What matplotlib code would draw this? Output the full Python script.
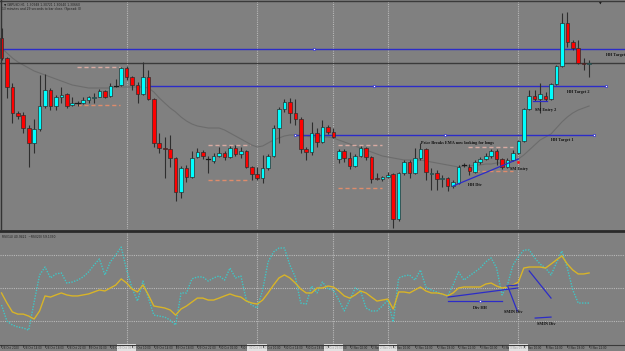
import matplotlib
matplotlib.use("Agg")
import matplotlib.pyplot as plt
from matplotlib.lines import Line2D
from matplotlib.transforms import blended_transform_factory

# ---------------- data (price levels in points above a base, H1 bars) ----------------
opens = [192,172,143,117,115,102,87,101,124,140,
         124,133,136,125,127,127,130,132,133,139,
         134,144,145,162,153,145,136,153,131,87,
         82,81,72,38,62,53,73,78,71,69,
         74,77,73,82,76,79,63,56,52,62,
         74,102,121,128,117,111,81,78,97,88,
         103,98,71,79,72,64,74,82,73,52,
         51,53,56,11,57,68,57,72,81,56,
         57,51,52,44,47,65,63,58,68,71,
         74,79,71,63,70,77,89,121,134,131,
         134,131,146,164,207,188,182,167,166]
closes = [172,143,117,114,102,87,101,124,140,124,
          133,135,124,127,127,130,133,133,139,133,
          144,144,162,153,145,136,153,131,87,82,
          81,72,38,62,53,72,78,74,71,74,
          77,73,82,76,79,63,56,52,62,74,
          102,121,128,117,111,81,78,97,88,103,
          98,93,79,72,64,74,82,73,51,51,
          53,55,11,57,68,57,72,81,58,57,
          51,52,44,48,63,65,59,68,71,74,
          79,71,63,70,77,89,121,134,131,136,
          131,146,164,207,188,182,167,166,167]
highs = [202,173,147,119,118,105,111,155,156,142,
         135,143,137,133,129,133,134,137,141,140,
         147,151,163,164,154,148,168,160,132,97,
         93,95,73,64,65,79,82,80,74,77,
         83,79,84,85,83,80,64,63,75,76,
         105,123,131,132,131,113,83,108,102,110,
         105,102,81,81,78,76,84,83,74,57,
         54,58,57,58,70,70,82,87,82,62,
         60,55,53,50,65,67,66,70,73,77,
         81,81,72,72,80,90,122,140,140,147,
         138,147,165,217,218,190,190,172,170]
lows = [170,132,107,111,97,63,77,99,122,120,
        120,127,122,124,124,126,127,127,133,132,
        133,143,144,150,140,127,135,130,83,77,
        52,63,29,32,48,52,72,71,57,67,
        73,70,72,74,72,62,50,50,47,60,
        73,87,118,107,105,77,70,75,83,87,
        96,92,67,68,61,63,73,70,47,50,
        49,52,2,9,55,52,56,70,50,40,
        40,43,39,42,46,63,55,57,66,70,
        72,65,61,62,69,76,88,120,129,117,
        129,130,145,163,183,180,166,160,153]
ema = [182,177,172,168,165,162,159,157,155,153,
       151,149,147,145,144,143,142,142,142,142,
       142,143,143,143,143,143,143,142,138,132,
       127,122,118,113,109,106,104,103,102,102,
       102,100,97,94,91,88,85,83,84,87,
       90,92,94,95,95,94,94,93,93,93,
       93,92,90,88,86,84,82,80,78,76,
       74,73,72,71,70,70,70,70,69,68,
       67,66,65,64,63,64,64,65,65,66,
       66,67,67,68,69,71,75,80,85,90,
       93,96,102,108,113,117,120,122,124]
rsi_slow = [47.0,40.9,35.5,34.2,34.2,33.0,31.2,36.1,45.2,44.5,
            45.8,47.0,45.8,45.2,45.2,45.8,46.4,47.6,48.8,48.2,
            50.0,51.8,55.5,53.0,49.4,47.6,51.8,45.8,39.1,38.5,
            37.9,36.7,33.6,37.3,39.1,41.5,43.9,43.9,42.7,42.7,
            43.9,45.2,46.4,45.2,44.5,42.1,40.9,40.3,42.7,47.0,
            51.8,56.1,57.9,56.1,53.0,49.4,47.0,47.0,50.0,50.0,
            51.2,50.6,48.2,45.2,43.9,45.8,48.2,47.0,44.5,42.1,
            42.7,43.3,37.3,47.6,47.6,47.0,48.8,50.6,48.2,47.0,
            47.0,46.4,45.2,47.0,50.0,50.6,50.6,50.6,50.6,52.4,
            53.0,51.2,50.0,50.6,51.8,53.6,62.1,62.7,62.7,62.7,
            62.1,64.5,67.0,69.4,64.5,60.9,58.5,58.5,59.1]
rsi_fast = [39.7,30.0,27.6,26.4,25.8,24.5,41.5,57.9,62.7,56.1,
            58.5,59.1,53.0,53.6,54.8,56.7,59.7,63.9,67.6,57.9,
            65.8,70.0,74.8,60.9,50.0,42.1,54.2,43.9,33.6,33.0,
            32.4,30.6,27.6,47.0,47.0,55.5,56.7,56.7,54.2,56.1,
            57.3,54.8,62.1,56.1,57.3,42.7,39.7,37.9,48.8,65.8,
            71.8,74.2,74.2,63.9,56.7,40.9,40.3,51.2,47.0,53.6,
            49.4,48.8,42.7,36.1,42.7,50.0,48.2,37.9,36.1,36.1,
            39.1,42.7,29.4,56.1,57.3,57.9,54.8,60.9,50.6,48.8,
            47.6,46.4,45.2,51.8,59.7,54.8,57.3,59.7,62.1,65.8,
            68.2,62.1,45.8,51.8,63.9,68.8,73.0,73.0,68.2,64.5,
            62.1,57.9,65.2,72.4,62.1,48.8,40.9,40.9,40.9]
time_labels = ["28 Oct 2020","28 Oct 14:00","28 Oct 18:00","28 Oct 22:00","29 Oct 02:00",
               "29 Oct 06:00","29 Oct 10:00","29 Oct 14:00","29 Oct 18:00","29 Oct 22:00",
               "30 Oct 02:00","30 Oct 06:00","30 Oct 10:00","30 Oct 14:00","30 Oct 18:00",
               "30 Oct 22:00","2 Nov 02:00","2 Nov 06:00","2 Nov 10:00","2 Nov 14:00",
               "2 Nov 18:00","2 Nov 22:00","3 Nov 02:00","3 Nov 06:00","3 Nov 10:00",
               "3 Nov 14:00","3 Nov 18:00","3 Nov 22:00"]
label_step = 4
separator_idx = [23, 47, 61, 71, 95]
separator_labels = ["29 Oct 09:00", "30 Oct 09:00", "30 Oct 23:00", "2 Nov 09:00", "3 Nov 09:00"]
rsi_levels = [30, 50, 70]
bid_level = 167
target_levels = {"HH Target": 181, "HH Target 2": 144, "HH Target 1": 95}

# ---------------- figure ----------------
W, H = 625, 351
BG = '#808080'
BLUE = '#2c2cc8'
fig = plt.figure(figsize=(W / 100, H / 100), dpi=100, facecolor=BG)
ax = fig.add_axes([0, 1 - 229 / H, 1, 228 / H])
ax2 = fig.add_axes([0, 1 - 344 / H, 1, 112 / H])
for a in (ax, ax2):
    a.set_facecolor(BG)
    a.set_xlim(-0.276, 114.6)
    for s in a.spines.values():
        s.set_visible(False)
    a.set_xticks([])
    a.set_yticks([])
ax.set_ylim(1, 229)
ax2.set_ylim(16.1, 83.9)

n = len(opens)
idx = list(range(n))

# separators / grid
for a in (ax, ax2):
    for s in separator_idx:
        a.axvline(s, color='#b8b8b8', lw=0.8, ls=(0, (1, 1)), zorder=1)
for lv in rsi_levels:
    ax2.axhline(lv, color='#b8b8b8', lw=0.8, ls=(0, (1, 1)), zorder=1)

# EMA
ax.plot(idx, ema, color='#6c6c6c', lw=0.8, zorder=2)

# horizontal target lines
ax.axhline(target_levels["HH Target"], color=BLUE, lw=1, zorder=2)
ax.axhline(bid_level, color='#3a3a3a', lw=1, zorder=2)
ax.plot([27.3, 111.1], [target_levels["HH Target 2"]] * 2, color=BLUE, lw=1, zorder=2)
ax.plot([54.0, 108.9], [target_levels["HH Target 1"]] * 2, color=BLUE, lw=1, zorder=2)
ax.plot([57.4, 68.5, 111.1], [181, 144, 144], ls='none', marker='s', ms=1.6,
        mfc='white', mec=BLUE, mew=0.5, zorder=6)
ax.plot([54.0, 81.5, 108.9], [95, 95, 95], ls='none', marker='s', ms=1.6,
        mfc='white', mec=BLUE, mew=0.5, zorder=6)

# range boxes (dashed)
for (x0, x1, top, bot) in [(13.9, 21.8, 163, 125), (38.0, 45.7, 85, 50),
                           (61.9, 70.0, 85, 42), (85.8, 94.0, 83, 59)]:
    ax.plot([x0, x1], [top, top], color='#d8aaa2', lw=1, ls=(0, (3, 2)), zorder=2)
    ax.plot([x0, x1], [bot, bot], color='#de8c6c', lw=1, ls=(0, (3, 2)), zorder=2)

# candles
wick = '#2e2e2e'
ax.vlines(idx, lows, highs, color=wick, lw=0.8, zorder=3)
bottoms = [min(o, c) for o, c in zip(opens, closes)]
heights = [abs(c - o) for o, c in zip(opens, closes)]
colors = ['#00ffff' if c > o else '#ff0000' for o, c in zip(opens, closes)]
ax.bar(idx, heights, bottom=bottoms, width=0.66, color=colors,
       edgecolor=wick, linewidth=0.5, zorder=4)
for i, (o, c) in enumerate(zip(opens, closes)):
    if o == c:
        ax.plot([i - 0.4, i + 0.4], [o, o], color='#1a1a1a', lw=0.9, zorder=4)

# divergence annotation main panel
ax.plot([83.0, 95.0], [44, 71], color=BLUE, lw=0.9, zorder=5)
ax.plot([97.7, 100.3], [129, 129], color=BLUE, lw=0.9, zorder=5)
ax.plot([95], [68], marker='o', ms=1.2, color='#ff2020', zorder=6)
tf = dict(family='Liberation Serif', fontweight='bold', fontsize=3.1, color='#101010', zorder=7)
ax.text(77.1, 87, "Price Breaks EMA now looking for longs", ha='left', va='center', **tf)
ax.text(87.0, 45, "HH Div", ha='center', va='center', **tf)
ax.text(95.1, 61, "SM Entry", ha='center', va='center', **tf)
ax.text(98.1, 120, "SM Entry 2", ha='left', va='center', **tf)
ax.text(104.0, 138, "HH Target 2", ha='left', va='center', **tf)
ax.text(101.0, 90, "HH Target 1", ha='left', va='center', **tf)
ax.text(111.1, 175, "HH Target", ha='left', va='center', clip_on=False, **tf)

# header texts
ax.text(0.006, 0.995, "\u25bc GBPUSD,H1  1.30948 1.30721 1.30640 1.30660", transform=ax.transAxes,
        ha='left', va='top', fontsize=2.2, color='#1e1e1e')
ax.text(0.004, 0.975, "13 minutes and 29 seconds to bar close. (Spread: 0)", transform=ax.transAxes,
        ha='left', va='top', fontsize=2.2, color='#1e1e1e')
ax.text(0.96, 0.998, "\u25bc", transform=ax.transAxes, ha='center', va='top', fontsize=2.5, color='#111111')

# RSI panel
ax2.plot(idx, rsi_fast, color='#3fc6c6', lw=1.0, ls=(0, (1, 1)), zorder=3)
ax2.plot(idx, rsi_slow, color='#d8b428', lw=1.0, zorder=4)
ax2.text(0.004, 0.975, "RSI(14) 40.9421  ~RSI(20) 59.1330", transform=ax2.transAxes,
         ha='left', va='top', fontsize=2.2, color='#1e1e1e')
for (x0, v0, x1, v1) in [(82.1, 44.5, 94.9, 50.0), (82.1, 42.1, 92.0, 42.1),
                         (92.9, 51.2, 94.8, 51.8), (93.1, 50.6, 94.8, 36.1),
                         (97.0, 60.3, 101.0, 43.9), (98.1, 31.8, 101.0, 32.4)]:
    ax2.plot([x0, x1], [v0, v1], color=BLUE, lw=0.9, zorder=5)
ax2.plot([87.9], [42.1], ls='none', marker='s', ms=1.4, mfc='white', mec=BLUE, mew=0.4, zorder=6)
ax2.text(88.0, 37.9, "Div HH", ha='center', va='center', **tf)
ax2.text(94.0, 35.3, "SMIN Div", ha='center', va='center', **tf)
ax2.text(100.1, 28.2, "SMIN Div", ha='center', va='center', **tf)

# frame lines
fig.add_artist(Line2D([0, 1], [1 - 0.5 / H] * 2, transform=fig.transFigure, color='#3a3a3a', lw=1))
fig.add_artist(Line2D([0, 1], [1 - 230.5 / H] * 2, transform=fig.transFigure, color='#2a2a2a', lw=2))
fig.add_artist(Line2D([0, 1], [1 - 344.5 / H] * 2, transform=fig.transFigure, color='#3a3a3a', lw=0.8))
fig.add_artist(Line2D([0.5 / W] * 2, [1 - 229 / H, 1], transform=fig.transFigure, color='#333333', lw=1))

# time axis labels
tr = blended_transform_factory(ax2.transData, fig.transFigure)
for k, lab in enumerate(time_labels):
    i = k * label_step
    ax2.text(i + 0.15, 1 - 347.6 / H, lab, transform=tr, ha='left', va='center',
             fontsize=1.95, color='#1e1e1e', clip_on=False)
    fig.add_artist(Line2D([(1.5 + 5.44 * i) / W] * 2, [1 - 344.5 / H, 1 - 346.5 / H],
                          transform=fig.transFigure, color='#2a2a2a', lw=0.5))
for s, lab in zip(separator_idx, separator_labels):
    ax2.text(s, 1 - 347.6 / H, lab, transform=tr, ha='center', va='center', fontsize=1.95,
             color='#9a9a9a', clip_on=False, zorder=8,
             bbox=dict(facecolor='#e2e2e2', edgecolor='none', pad=0.8))

fig.savefig("out.png", dpi=100, facecolor=BG)
